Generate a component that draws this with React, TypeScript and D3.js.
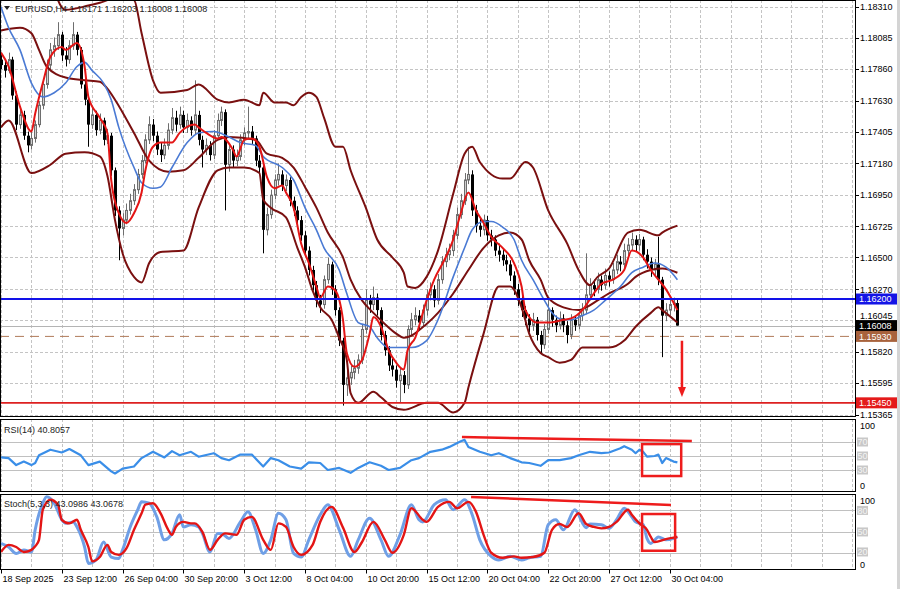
import React from 'react';
import * as d3 from 'd3';

const W = 900;
const H = 589;

const titleText = 'EURUSD,H4  1.16171 1.16203 1.16008 1.16008';
const rsiText = 'RSI(14) 40.8057';
const stochText = 'Stoch(5,3,3) 43.0986 43.0678';

const priceTicks = [1.1831, 1.18085, 1.1786, 1.1763, 1.17405, 1.1718, 1.1695, 1.16725, 1.165, 1.1627, 1.16045, 1.1582, 1.15595, 1.15365];
const timeLabels = ['18 Sep 2025', '23 Sep 12:00', '26 Sep 04:00', '30 Sep 20:00', '3 Oct 12:00', '8 Oct 04:00', '10 Oct 20:00', '15 Oct 12:00', '20 Oct 04:00', '22 Oct 20:00', '27 Oct 12:00', '30 Oct 04:00'];
const barsPerLabel = 16;

// [open, high, low, close]
const candles: [number, number, number, number][] = [
  [1.1793,1.1797,1.1786,1.1789],[1.1789,1.1792,1.1780,1.1785],[1.1785,1.1798,1.1783,1.1793],[1.1793,1.1795,1.1764,1.1767],
  [1.1767,1.1770,1.1742,1.1746],[1.1746,1.1758,1.1743,1.1753],[1.1753,1.1756,1.1735,1.1738],[1.1738,1.1741,1.1726,1.1731],
  [1.1731,1.1741,1.1728,1.1736],[1.1736,1.1749,1.1733,1.1746],[1.1746,1.1763,1.1744,1.1760],[1.1760,1.1779,1.1757,1.1775],
  [1.1775,1.1793,1.1772,1.1789],[1.1789,1.1805,1.1786,1.1800],[1.1800,1.1809,1.1795,1.1803],[1.1803,1.1820,1.1800,1.1811],
  [1.1811,1.1813,1.1792,1.1796],[1.1796,1.1802,1.1788,1.1793],[1.1793,1.1807,1.1790,1.1803],[1.1803,1.1820,1.1800,1.1811],
  [1.1811,1.1813,1.1796,1.1800],[1.1800,1.1802,1.1772,1.1775],[1.1775,1.1779,1.1760,1.1764],[1.1764,1.1766,1.1730,1.1746],
  [1.1746,1.1758,1.1743,1.1753],[1.1753,1.1756,1.1738,1.1742],[1.1742,1.1754,1.1739,1.1749],[1.1749,1.1751,1.1731,1.1735],
  [1.1735,1.1743,1.1732,1.1738],[1.1738,1.1740,1.1709,1.1713],[1.1713,1.1715,1.1680,1.1684],[1.1684,1.1687,1.1648,1.1671],
  [1.1671,1.1682,1.1666,1.1677],[1.1677,1.1689,1.1674,1.1684],[1.1684,1.1696,1.1681,1.1691],[1.1691,1.1703,1.1688,1.1699],
  [1.1699,1.1714,1.1696,1.1710],[1.1710,1.1724,1.1707,1.1720],[1.1720,1.1739,1.1718,1.1735],[1.1735,1.1752,1.1732,1.1746],
  [1.1746,1.1750,1.1734,1.1738],[1.1738,1.1741,1.1724,1.1728],[1.1728,1.1733,1.1719,1.1724],[1.1724,1.1736,1.1721,1.1731],
  [1.1731,1.1747,1.1728,1.1742],[1.1742,1.1758,1.1739,1.1751],[1.1751,1.1756,1.1741,1.1746],[1.1746,1.1759,1.1743,1.1753],
  [1.1753,1.1756,1.1740,1.1744],[1.1744,1.1754,1.1740,1.1749],[1.1749,1.1752,1.1738,1.1742],[1.1742,1.1778,1.1739,1.1753],
  [1.1753,1.1756,1.1731,1.1735],[1.1735,1.1738,1.1715,1.1728],[1.1728,1.1736,1.1724,1.1731],[1.1731,1.1734,1.1720,1.1724],
  [1.1724,1.1742,1.1721,1.1738],[1.1738,1.1754,1.1735,1.1749],[1.1749,1.1759,1.1745,1.1755],[1.1755,1.1757,1.1684,1.1717],
  [1.1717,1.1732,1.1712,1.1728],[1.1728,1.1731,1.1715,1.1720],[1.1720,1.1728,1.1716,1.1723],[1.1723,1.1739,1.1720,1.1735],
  [1.1735,1.1744,1.1731,1.1740],[1.1740,1.1759,1.1736,1.1741],[1.1741,1.1745,1.1732,1.1736],[1.1736,1.1738,1.1716,1.1720],
  [1.1720,1.1724,1.1710,1.1715],[1.1715,1.1717,1.1653,1.1670],[1.1670,1.1686,1.1666,1.1681],[1.1681,1.1699,1.1678,1.1695],
  [1.1695,1.1710,1.1692,1.1706],[1.1706,1.1718,1.1702,1.1710],[1.1710,1.1713,1.1698,1.1702],[1.1702,1.1710,1.1698,1.1706],
  [1.1706,1.1708,1.1687,1.1691],[1.1691,1.1694,1.1680,1.1684],[1.1684,1.1687,1.1672,1.1677],[1.1677,1.1680,1.1662,1.1666],
  [1.1666,1.1669,1.1651,1.1655],[1.1655,1.1658,1.1637,1.1641],[1.1641,1.1644,1.1626,1.1630],[1.1630,1.1633,1.1614,1.1619],
  [1.1619,1.1623,1.1610,1.1616],[1.1616,1.1637,1.1613,1.1634],[1.1634,1.1650,1.1631,1.1645],[1.1645,1.1647,1.1623,1.1627],
  [1.1627,1.1630,1.1608,1.1612],[1.1612,1.1614,1.1586,1.1590],[1.1590,1.1592,1.1543,1.1558],[1.1558,1.1568,1.1550,1.1563],
  [1.1563,1.1572,1.1558,1.1567],[1.1567,1.1576,1.1562,1.1570],[1.1570,1.1580,1.1566,1.1576],[1.1576,1.1602,1.1573,1.1598],
  [1.1598,1.1627,1.1595,1.1619],[1.1619,1.1623,1.1610,1.1616],[1.1616,1.1629,1.1612,1.1621],[1.1621,1.1624,1.1608,1.1612],
  [1.1612,1.1614,1.1590,1.1594],[1.1594,1.1597,1.1579,1.1583],[1.1583,1.1586,1.1568,1.1572],[1.1572,1.1577,1.1564,1.1569],
  [1.1569,1.1572,1.1556,1.1561],[1.1561,1.1570,1.1545,1.1565],[1.1565,1.1568,1.1552,1.1558],[1.1558,1.1601,1.1555,1.1598],
  [1.1598,1.1610,1.1594,1.1605],[1.1605,1.1614,1.1601,1.1608],[1.1608,1.1612,1.1598,1.1603],[1.1603,1.1616,1.1600,1.1612],
  [1.1612,1.1627,1.1608,1.1623],[1.1623,1.1632,1.1619,1.1627],[1.1627,1.1630,1.1614,1.1619],[1.1619,1.1638,1.1616,1.1634],
  [1.1634,1.1651,1.1631,1.1647],[1.1647,1.1657,1.1643,1.1652],[1.1652,1.1660,1.1648,1.1655],[1.1655,1.1670,1.1651,1.1666],
  [1.1666,1.1686,1.1663,1.1681],[1.1681,1.1696,1.1678,1.1691],[1.1691,1.1711,1.1688,1.1706],[1.1706,1.1730,1.1703,1.1710],
  [1.1710,1.1713,1.1680,1.1684],[1.1684,1.1688,1.1668,1.1673],[1.1673,1.1678,1.1665,1.1670],[1.1670,1.1681,1.1666,1.1677],
  [1.1677,1.1680,1.1662,1.1666],[1.1666,1.1670,1.1658,1.1663],[1.1663,1.1666,1.1651,1.1655],[1.1655,1.1660,1.1647,1.1652],
  [1.1652,1.1656,1.1644,1.1648],[1.1648,1.1652,1.1640,1.1645],[1.1645,1.1648,1.1633,1.1637],[1.1637,1.1640,1.1623,1.1627],
  [1.1627,1.1631,1.1615,1.1619],[1.1619,1.1622,1.1607,1.1612],[1.1612,1.1615,1.1601,1.1606],[1.1606,1.1609,1.1596,1.1601],
  [1.1601,1.1610,1.1597,1.1605],[1.1605,1.1607,1.1590,1.1594],[1.1594,1.1597,1.1581,1.1587],[1.1587,1.1602,1.1584,1.1598],
  [1.1598,1.1621,1.1595,1.1612],[1.1612,1.1614,1.1600,1.1605],[1.1605,1.1608,1.1596,1.1601],[1.1601,1.1611,1.1598,1.1606],
  [1.1606,1.1609,1.1596,1.1601],[1.1601,1.1604,1.1588,1.1594],[1.1594,1.1609,1.1591,1.1605],[1.1605,1.1608,1.1597,1.1601],
  [1.1601,1.1612,1.1598,1.1608],[1.1608,1.1617,1.1604,1.1612],[1.1612,1.1653,1.1609,1.1623],[1.1623,1.1635,1.1619,1.1630],
  [1.1630,1.1634,1.1622,1.1627],[1.1627,1.1639,1.1624,1.1634],[1.1634,1.1637,1.1626,1.1630],[1.1630,1.1642,1.1627,1.1637],
  [1.1637,1.1640,1.1629,1.1634],[1.1634,1.1646,1.1631,1.1641],[1.1641,1.1652,1.1638,1.1647],[1.1647,1.1651,1.1640,1.1645],
  [1.1645,1.1660,1.1642,1.1655],[1.1655,1.1664,1.1651,1.1659],[1.1659,1.1668,1.1655,1.1663],[1.1663,1.1666,1.1654,1.1659],
  [1.1659,1.1667,1.1655,1.1663],[1.1663,1.1665,1.1648,1.1652],[1.1652,1.1656,1.1642,1.1647],[1.1647,1.1650,1.1636,1.1641],
  [1.1641,1.1649,1.1637,1.1645],[1.1645,1.1665,1.1630,1.1634],[1.1634,1.1636,1.1578,1.1608],[1.1608,1.1617,1.1604,1.1612],
  [1.1612,1.1620,1.1608,1.1616],[1.1616,1.1621,1.1611,1.16171],[1.16171,1.16203,1.16008,1.16008],
];

// indicator samples: [bar index, value]
const bbUpper: [number, number][] = [
  [0,1.1883],[5,1.1905],[9,1.1912],[13,1.1858],[15,1.1836],[17,1.1829],[23,1.1832],[26,1.1834],[31,1.1838],[35,1.1836],
  [37,1.1812],[40,1.1778],[42,1.1769],[49,1.1771],[52,1.1775],[57,1.1764],[60,1.1762],[64,1.1764],[68,1.1760],[69,1.1769],
  [72,1.1762],[75,1.1762],[77,1.1760],[79,1.1766],[81,1.1769],[83,1.1766],[85,1.1751],[88,1.1730],[90,1.1730],[92,1.1713],
  [96,1.1686],[99,1.1663],[103,1.1650],[106,1.1639],[107,1.1629],[109,1.1628],[112,1.1636],[115,1.1655],[119,1.1696],[122,1.1725],
  [124,1.1730],[126,1.1719],[132,1.1707],[134,1.1707],[138,1.1719],[140,1.1715],[144,1.1684],[149,1.1660],[152,1.1641],[155,1.1630],
  [157,1.1636],[160,1.1642],[165,1.1668],[168,1.1670],[173,1.1666],[174,1.1668],[178,1.1673],
];
const bbMiddle: [number, number][] = [
  [0,1.1814],[5,1.1816],[8,1.1812],[10,1.1800],[12,1.1788],[17,1.1780],[22,1.1778],[26,1.1777],[28,1.1772],[30,1.1764],
  [35,1.1740],[39,1.1720],[44,1.1712],[48,1.1713],[52,1.1722],[57,1.1735],[60,1.1737],[67,1.1735],[70,1.1725],[74,1.1722],
  [77,1.1715],[80,1.1701],[83,1.1686],[86,1.1668],[90,1.1650],[92,1.1634],[95,1.1619],[98,1.1610],[101,1.1602],[104,1.1595],
  [106,1.1592],[112,1.1602],[115,1.1610],[119,1.1624],[123,1.1641],[127,1.1657],[131,1.1666],[134,1.1668],[137,1.1663],[139,1.1648],
  [142,1.1634],[144,1.1621],[148,1.1614],[152,1.1612],[154,1.1614],[157,1.1619],[160,1.1624],[165,1.1631],[167,1.1636],[171,1.1641],
  [174,1.1642],[178,1.1639],
];
const bbLower: [number, number][] = [
  [0,1.1744],[2,1.1749],[8,1.1711],[13,1.1717],[17,1.1725],[22,1.1726],[26,1.1723],[28,1.1709],[30,1.1677],[32,1.1653],
  [35,1.1636],[37,1.1632],[39,1.1646],[42,1.1654],[48,1.1655],[52,1.1686],[57,1.1713],[60,1.1715],[64,1.1715],[68,1.1711],
  [69,1.1692],[71,1.1686],[75,1.1679],[78,1.1657],[80,1.1643],[82,1.1626],[84,1.1614],[87,1.1605],[89,1.1592],[91,1.1576],
  [92,1.1552],[94,1.1545],[98,1.1553],[100,1.1549],[103,1.1542],[106,1.1540],[112,1.1545],[115,1.1545],[119,1.1538],[122,1.1545],
  [123,1.1556],[127,1.1595],[131,1.1629],[134,1.1629],[137,1.1614],[139,1.1595],[142,1.1581],[144,1.1578],[147,1.1574],[150,1.1576],
  [153,1.1585],[157,1.1585],[160,1.1585],[164,1.1590],[167,1.1600],[171,1.1610],[173,1.1614],[174,1.1612],[178,1.1603],
];
const maSlow: [number, number][] = [
  [0,1.1831],[2,1.1816],[5,1.1800],[8,1.1776],[11,1.1766],[14,1.1769],[17,1.1776],[20,1.1788],[22,1.1791],[24,1.1785],
  [27,1.1776],[29,1.1764],[31,1.1744],[35,1.1715],[37,1.1704],[40,1.1700],[42,1.1701],[45,1.1715],[49,1.1733],[52,1.1740],
  [56,1.1741],[60,1.1737],[63,1.1733],[67,1.1731],[69,1.1723],[74,1.1715],[77,1.1706],[80,1.1686],[83,1.1670],[85,1.1657],
  [89,1.1641],[91,1.1624],[94,1.1603],[97,1.1600],[99,1.1592],[102,1.1585],[104,1.1585],[108,1.1585],[112,1.1590],[115,1.1605],
  [119,1.1636],[122,1.1657],[124,1.1670],[127,1.1676],[129,1.1676],[132,1.1672],[135,1.1663],[137,1.1648],[140,1.1634],[143,1.1619],
  [145,1.1610],[148,1.1605],[150,1.1605],[153,1.1608],[156,1.1612],[159,1.1619],[163,1.1629],[166,1.1639],[169,1.1643],[172,1.1646],
  [175,1.1643],[178,1.1634],
];
const maFast: [number, number][] = [
  [0,1.1798],[2,1.1788],[5,1.1759],[8,1.1741],[9,1.1754],[11,1.1776],[13,1.1795],[16,1.1802],[17,1.1800],[20,1.1805],
  [22,1.1788],[23,1.1766],[26,1.1751],[28,1.1740],[29,1.1706],[31,1.1682],[33,1.1675],[35,1.1682],[37,1.1697],[38,1.1713],
  [40,1.1730],[42,1.1733],[45,1.1733],[47,1.1740],[51,1.1746],[52,1.1744],[54,1.1740],[57,1.1736],[58,1.1737],[61,1.1728],
  [62,1.1723],[64,1.1735],[66,1.1736],[68,1.1730],[70,1.1708],[72,1.1700],[74,1.1702],[75,1.1697],[77,1.1686],[79,1.1660],
  [81,1.1646],[83,1.1629],[84,1.1621],[86,1.1629],[88,1.1626],[90,1.1605],[91,1.1581],[93,1.1571],[95,1.1576],[97,1.1595],
  [98,1.1607],[100,1.1600],[102,1.1583],[104,1.1574],[106,1.1569],[107,1.1583],[109,1.1592],[112,1.1619],[114,1.1634],[117,1.1650],
  [119,1.1663],[121,1.1682],[123,1.1697],[125,1.1684],[127,1.1675],[129,1.1665],[132,1.1657],[135,1.1646],[137,1.1629],[138,1.1612],
  [141,1.1603],[144,1.1603],[148,1.1605],[150,1.1606],[153,1.1612],[156,1.1624],[158,1.1631],[161,1.1634],[164,1.1641],[166,1.1655],
  [169,1.1650],[171,1.1641],[173,1.1634],[175,1.1627],[178,1.1612],
];

const rsi: [number, number][] = [
  [0,48],[2,47],[4,37],[6,42],[8,37],[9,40],[10,51],[13,59],[16,55],[18,60],[21,51],[23,37],[26,42],[29,28],[30,25],
  [32,32],[35,35],[37,47],[40,56],[43,48],[45,57],[47,51],[50,56],[52,49],[56,54],[58,47],[60,44],[63,52],[66,52],[69,35],
  [71,47],[73,44],[76,35],[79,32],[81,41],[84,40],[86,30],[89,33],[92,26],[94,33],[97,41],[100,36],[102,30],[105,33],[108,44],
  [110,47],[113,56],[116,59],[118,63],[121,71],[122,73],[123,63],[126,56],[129,51],[131,54],[134,47],[137,41],[139,40],[142,36],
  [144,44],[147,44],[150,47],[152,51],[155,56],[158,54],[160,55],[163,61],[164,64],[166,59],[167,54],[168,59],[169,56],[170,49],
  [172,50],[173,52],[174,40],[175,47],[177,42],[178,40.8057],
];
const stochMain: [number, number][] = [
  [0,34],[2,29],[4,20],[6,25],[8,22],[9,53],[11,90],[12,99],[14,90],[16,67],[17,62],[19,64],[20,57],[22,29],[23,6],
  [25,11],[27,36],[29,15],[31,13],[32,25],[34,57],[36,81],[37,92],[39,90],[41,71],[43,39],[45,48],[47,74],[48,57],[50,60],
  [52,57],[53,48],[55,22],[57,48],[58,48],[60,41],[63,64],[65,78],[67,53],[69,20],[71,39],[73,76],[75,67],[77,20],[79,15],
  [81,39],[84,74],[86,88],[89,53],[92,16],[94,39],[97,69],[100,39],[102,16],[105,46],[108,88],[110,67],[111,64],[114,88],[117,95],
  [119,81],[122,95],[124,74],[126,39],[129,16],[131,11],[134,16],[137,11],[139,14],[142,16],[144,60],[146,67],[148,53],[151,81],
  [154,56],[155,61],[158,60],[160,55],[162,67],[164,83],[166,71],[167,64],[169,60],[170,41],[171,34],[173,43],[175,39],[177,41],
  [178,43.0986],
];
const stochSignal: [number, number][] = [
  [0,22],[2,32],[4,29],[6,22],[8,25],[9,30],[10,39],[11,81],[13,95],[15,88],[16,67],[18,62],[20,67],[21,53],[23,29],
  [24,9],[26,15],[28,32],[29,22],[31,18],[33,27],[35,53],[37,76],[38,88],[40,90],[42,76],[44,53],[45,46],[46,57],[48,64],
  [50,62],[51,62],[53,50],[55,25],[57,39],[59,48],[62,46],[64,67],[66,71],[69,39],[71,25],[73,62],[75,57],[77,29],[79,18],
  [82,32],[84,64],[87,85],[90,56],[93,22],[95,36],[98,64],[101,39],[103,21],[106,46],[108,83],[111,67],[112,64],[115,85],[118,92],
  [120,83],[123,92],[125,78],[127,46],[129,21],[132,14],[135,16],[137,14],[140,15],[143,21],[145,53],[147,61],[149,57],[152,76],
  [154,61],[156,57],[158,55],[160,57],[162,64],[165,81],[166,74],[168,62],[170,53],[171,43],[172,36],[175,40],[178,43.0678],
];

const rsiLevels = [70, 50, 30];
const stochLevels = [80, 50, 20];

const levelBlue = 1.162;
const levelRed = 1.1545;
const levelDashed = 1.1593;
const bidPrice = 1.16008;

// annotations drawn by the analyst, in data units: [bar, value]
const rsiTrend: [number, number][] = [[121.3, 77], [181.8, 71.4]];
const rsiBox: [number, number, number, number] = [168.7, 179, 67, 21.4];
const stochTrend: [number, number][] = [[123.7, 98.7], [176.3, 87.6]];
const stochBox: [number, number, number, number] = [168.7, 177.4, 75, 23.8];
const arrowBar = 179.2;
const arrowFrom = 1.15898;
const arrowTo = 1.15492;

const FONT = '"Liberation Sans", Arial, sans-serif';

export default function App() {
  const chartRight = 855;
  const mainTop = 0, mainBottom = 416.5;
  const rsiTop = 419, rsiBottom = 491.5;
  const stTop = 494, stBottom = 569.5;

  const x = d3.scaleLinear().domain([0, 178]).range([1, 1 + 178 * 3.8]);
  const yM = d3.scaleLinear().domain([1.15365, 1.1831]).range([414.6, 6.96]);
  const yR = d3.scaleLinear().domain([0, 100]).range([491, 421]);
  const yS = d3.scaleLinear().domain([0, 100]).range([567.8, 496.1]);

  const lineM = d3.line<[number, number]>().x(d => x(d[0])).y(d => yM(d[1])).curve(d3.curveMonotoneX);
  const lineR = d3.line<[number, number]>().x(d => x(d[0])).y(d => yR(d[1])).curve(d3.curveLinear);
  const lineS = d3.line<[number, number]>().x(d => x(d[0])).y(d => yS(d[1])).curve(d3.curveMonotoneX);

  const gridX: number[] = [];
  for (let k = 0; ; k++) {
    const gx = x(k * 8);
    if (gx > chartRight - 2) break;
    gridX.push(Math.round(gx) + 0.5);
  }

  const crisp = (v: number) => Math.round(v) + 0.5;

  const priceBox = (p: number, bg: string, key: string) => {
    const cy = yM(p);
    return (
      <g key={key}>
        <rect x={856} y={cy - 5.5} width={41} height={11} fill={bg} />
        <text x={859} y={cy + 3.3} fontSize={9} fill="#fff" fontFamily={FONT}>{p.toFixed(5)}</text>
      </g>
    );
  };

  const grayLabel = (text: string, cy: number, key: string) => (
    <g key={key}>
      <rect x={857} y={cy - 4.5} width={11} height={9} fill="#c8c8c8" />
      <text x={857.5} y={cy + 3.2} fontSize={9} fill="#f4f4f4" fontFamily={FONT}>{text}</text>
    </g>
  );

  // tick label that sits just above the bid box is nudged up so both stay readable
  const tickLabelY = (p: number) => {
    const y = yM(p) + 3.2;
    const bidY = yM(bidPrice);
    if (Math.abs(yM(p) - bidY) < 9) return bidY - 6.5;
    return y;
  };

  return (
    <svg width={W} height={H} style={{ position: 'absolute', left: 0, top: 0, background: '#fff' }}>
      <defs>
        <clipPath id="clipMain"><rect x={0} y={mainTop} width={chartRight} height={mainBottom - mainTop} /></clipPath>
        <clipPath id="clipRsi"><rect x={0} y={rsiTop} width={chartRight} height={rsiBottom - rsiTop} /></clipPath>
        <clipPath id="clipSt"><rect x={0} y={stTop} width={chartRight} height={stBottom - stTop} /></clipPath>
      </defs>
      <rect x={0} y={0} width={W} height={H} fill="#fff" />

      {/* grids */}
      <g stroke="#c4c4c4" strokeWidth={1} strokeDasharray="3,2">
        {gridX.map((gx, i) => (
          <g key={'gx' + i}>
            <line x1={gx} x2={gx} y1={mainTop} y2={mainBottom} />
            <line x1={gx} x2={gx} y1={rsiTop} y2={rsiBottom} />
            <line x1={gx} x2={gx} y1={stTop} y2={stBottom} />
          </g>
        ))}
        {priceTicks.map((p, i) => (
          <line key={'gy' + i} x1={0} x2={chartRight} y1={crisp(yM(p))} y2={crisp(yM(p))} />
        ))}
      </g>
      <g stroke="#c0c0c0" strokeWidth={1}>
        {rsiLevels.map(v => <line key={'rl' + v} x1={0} x2={chartRight} y1={crisp(yR(v))} y2={crisp(yR(v))} />)}
        {stochLevels.map(v => <line key={'sl' + v} x1={0} x2={chartRight} y1={crisp(yS(v))} y2={crisp(yS(v))} />)}
      </g>

      {/* main panel */}
      <g clipPath="url(#clipMain)">
        <line x1={0} x2={chartRight} y1={crisp(yM(bidPrice))} y2={crisp(yM(bidPrice))} stroke="#b4b4b4" strokeWidth={1} />
        <line x1={0} x2={chartRight} y1={yM(levelDashed)} y2={yM(levelDashed)} stroke="#b07a5a" strokeWidth={1} strokeDasharray="9,6" />
        {candles.map((c, i) => {
          const [o, h, l, cl] = c;
          const cx = Math.round(x(i));
          const bull = cl >= o;
          const top = yM(Math.max(o, cl));
          const bot = yM(Math.min(o, cl));
          const bh = Math.max(1, bot - top);
          return (
            <g key={'c' + i}>
              <line x1={cx + 0.5} x2={cx + 0.5} y1={yM(h)} y2={yM(l)} stroke={bull ? '#6e6e6e' : '#000'} strokeWidth={1} />
              {bull ? (
                <rect x={cx - 0.5} y={top} width={2} height={bh} fill="#d0d0d0" stroke="#6e6e6e" strokeWidth={1} />
              ) : (
                <rect x={cx - 1} y={top} width={3} height={bh} fill="#000" />
              )}
            </g>
          );
        })}
        <path d={lineM(bbUpper) || ''} fill="none" stroke="#7a1010" strokeWidth={2} />
        <path d={lineM(bbMiddle) || ''} fill="none" stroke="#7a1010" strokeWidth={2} />
        <path d={lineM(bbLower) || ''} fill="none" stroke="#7a1010" strokeWidth={2} />
        <path d={lineM(maSlow) || ''} fill="none" stroke="#4a7ad4" strokeWidth={1.6} />
        <path d={lineM(maFast) || ''} fill="none" stroke="#e31515" strokeWidth={2} />
        <line x1={0} x2={chartRight} y1={yM(levelBlue)} y2={yM(levelBlue)} stroke="#1212e8" strokeWidth={2} />
        <line x1={0} x2={chartRight} y1={yM(levelRed)} y2={yM(levelRed)} stroke="#dd2020" strokeWidth={1.6} />
        {/* arrow */}
        <line x1={x(arrowBar)} x2={x(arrowBar)} y1={yM(arrowFrom)} y2={yM(arrowTo) - 9} stroke="#ee1c1c" strokeWidth={2.5} />
        <path d={`M${x(arrowBar) - 4},${yM(arrowTo) - 10} L${x(arrowBar) + 4},${yM(arrowTo) - 10} L${x(arrowBar)},${yM(arrowTo)} Z`} fill="#ee1c1c" />
      </g>

      {/* RSI panel */}
      <g clipPath="url(#clipRsi)">
        <path d={lineR(rsi) || ''} fill="none" stroke="#3a8ee8" strokeWidth={2.2} strokeLinejoin="round" />
        <line x1={x(rsiTrend[0][0])} y1={yR(rsiTrend[0][1])} x2={x(rsiTrend[1][0])} y2={yR(rsiTrend[1][1])} stroke="#ee1c1c" strokeWidth={2.5} />
        <rect x={x(rsiBox[0])} y={yR(rsiBox[2])} width={x(rsiBox[1]) - x(rsiBox[0])} height={yR(rsiBox[3]) - yR(rsiBox[2])} fill="none" stroke="#ee1c1c" strokeWidth={2.5} />
      </g>

      {/* Stoch panel */}
      <g clipPath="url(#clipSt)">
        <path d={lineS(stochMain) || ''} fill="none" stroke="#6f9fe6" strokeWidth={3} strokeLinejoin="round" />
        <path d={lineS(stochSignal) || ''} fill="none" stroke="#e31515" strokeWidth={2.4} strokeLinejoin="round" />
        <line x1={x(stochTrend[0][0])} y1={yS(stochTrend[0][1])} x2={x(stochTrend[1][0])} y2={yS(stochTrend[1][1])} stroke="#ee1c1c" strokeWidth={2.5} />
        <rect x={x(stochBox[0])} y={yS(stochBox[2])} width={x(stochBox[1]) - x(stochBox[0])} height={yS(stochBox[3]) - yS(stochBox[2])} fill="none" stroke="#ee1c1c" strokeWidth={2.5} />
      </g>

      {/* frames */}
      <g fill="none" stroke="#000" strokeWidth={1}>
        <rect x={0.5} y={0.5} width={chartRight} height={mainBottom - 0.5} />
        <rect x={0.5} y={rsiTop + 0.5} width={chartRight} height={rsiBottom - rsiTop - 0.5} />
        <rect x={0.5} y={stTop + 0.5} width={chartRight} height={stBottom - stTop - 0.5} />
      </g>
      <rect x={897} y={0} width={3} height={H} fill="#d4d4d4" />

      {/* price axis */}
      <g fontFamily={FONT} fontSize={9} fill="#000">
        {priceTicks.map((p, i) => (
          <g key={'pt' + i}>
            <line x1={chartRight + 0.5} x2={chartRight + 4} y1={crisp(yM(p))} y2={crisp(yM(p))} stroke="#000" />
            <text x={860} y={tickLabelY(p)}>{p.toFixed(5)}</text>
          </g>
        ))}
      </g>
      {priceBox(levelBlue, '#1414e6', 'pbBlue')}
      {priceBox(bidPrice, '#000', 'pbBid')}
      {priceBox(levelDashed, '#a8623c', 'pbDash')}
      {priceBox(levelRed, '#e41a1a', 'pbRed')}

      {/* oscillator axes */}
      <g fontFamily={FONT} fontSize={9} fill="#000">
        <text x={860} y={yR(100) + 8}>100</text>
        <text x={860} y={yR(0) - 2}>0</text>
        <text x={860} y={yS(100) + 8}>100</text>
        <text x={860} y={yS(0) + 0.5}>0</text>
      </g>
      {rsiLevels.map(v => grayLabel(String(v), yR(v), 'rg' + v))}
      {stochLevels.map(v => grayLabel(String(v), yS(v) - (v === 20 ? 1.5 : 0), 'sg' + v))}

      {/* time axis */}
      <g fontFamily={FONT} fontSize={9} fill="#000">
        {timeLabels.map((t, i) => {
          const tx = crisp(x(i * barsPerLabel));
          return (
            <g key={'tl' + i}>
              <line x1={tx} x2={tx} y1={stBottom} y2={stBottom + 4} stroke="#000" />
              <text x={tx + 1} y={582}>{t}</text>
            </g>
          );
        })}
      </g>

      {/* titles */}
      <g fontFamily={FONT} fontSize={9} fill="#222">
        <path d="M4,6 L10,6 L7,10 Z" fill="#222" />
        <text x={15} y={12}>{titleText}</text>
        <text x={4} y={433}>{rsiText}</text>
        <text x={4} y={507}>{stochText}</text>
      </g>
    </svg>
  );
}
